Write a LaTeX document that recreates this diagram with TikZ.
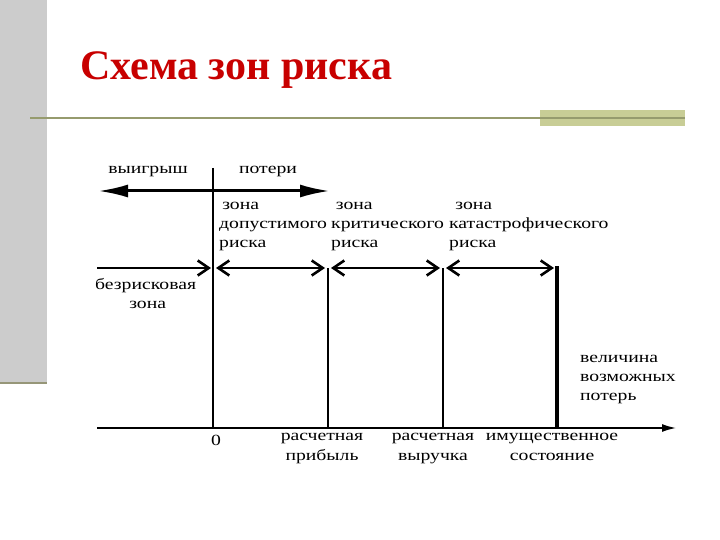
\documentclass[tikz,border=0pt]{standalone}
\usepackage{fontspec}
\setmainfont{Liberation Serif}
\newfontfamily\wide[FakeStretch=1.27]{Liberation Serif}
\usetikzlibrary{arrows.meta}
\begin{document}
\begin{tikzpicture}[x=1pt,y=-1pt,
  lbl/.style={font=\wide\fontsize{15.5}{19}\selectfont,inner sep=0pt,align=center},
  ln/.style={line width=2.6pt},
  oarr/.style={line width=2.6pt,{Straight Barb[length=11pt,width=15pt,line width=2.6pt]}-{Straight Barb[length=11pt,width=15pt,line width=2.6pt]}},
  rarr/.style={line width=2.6pt,-{Straight Barb[length=11pt,width=15pt,line width=2.6pt]}}]
\useasboundingbox (0,0) rectangle (720,540);
\fill[gray!40] (0,0) rectangle (47,383);
\draw[line width=2pt,color={rgb,255:red,150;green,150;blue,120}] (0,383) -- (47,383);
\node[anchor=west,font=\bfseries\fontsize{42}{44}\selectfont,text={rgb,255:red,200;green,0;blue,0},inner sep=0pt] (title) at (80,70) {Схема зон риска};
\fill[color={rgb,255:red,200;green,205;blue,150}] (540,110) rectangle (685,126);
\draw[line width=1.5pt,color={rgb,255:red,150;green,155;blue,110}] (30,118) -- (685,118);
% verticals
\coordinate (v0t) at (213,168); \coordinate (v0b) at (213,428);
\coordinate (v1t) at (328,268); \coordinate (v1b) at (328,428);
\coordinate (v2t) at (443,268); \coordinate (v2b) at (443,428);
\coordinate (v3t) at (557,266); \coordinate (v3b) at (557,428);
\draw[ln] (v0t) -- (v0b);
\draw[ln] (v1t) -- (v1b);
\draw[ln] (v2t) -- (v2b);
\draw[line width=3.2pt] (v3t) -- (v3b);
% top arrow
\coordinate (tl) at (98,191); \coordinate (tr) at (330,191);
\draw[line width=3pt,{Latex[length=30pt,width=13pt]}-{Latex[length=30pt,width=13pt]}] (tl) -- (tr);
% zone arrows
\coordinate (a0) at (97,268); \coordinate (a1) at (211,268);
\draw[rarr] (a0) -- (a1);
\coordinate (b0) at (216,268); \coordinate (b1) at (325,268);
\draw[oarr] (b0) -- (b1);
\coordinate (c0) at (331,268); \coordinate (c1) at (440,268);
\draw[oarr] (c0) -- (c1);
\coordinate (d0) at (446,268); \coordinate (d1) at (554,268);
\draw[oarr] (d0) -- (d1);
% axis
\coordinate (x0) at (97,428); \coordinate (x1) at (676,428);
\draw[line width=1.5pt,-{Latex[length=14pt,width=8pt]}] (x0) -- (x1);
% labels
\node[lbl] (win) at (148,171) {выигрыш};
\node[lbl] (loss) at (268,171) {потери};
\node[lbl,anchor=north west,align=left] (z1) at (219,202) {\hspace*{0.2em}зона\\допустимого\\риска};
\node[lbl,anchor=north west,align=left] (z2) at (331,202) {\hspace*{0.3em}зона\\критического\\риска};
\node[lbl,anchor=north west,align=left] (z3) at (449,202) {\hspace*{0.4em}зона\\катастрофического\\риска};
\node[lbl,anchor=north west,align=left] (z0) at (95,278) {безрисковая\\\hspace*{2.2em}зона};
\node[lbl,anchor=north west,align=left] (mag) at (580,355) {величина\\возможных\\потерь};
\node[lbl] (l0) at (216,440) {0};
\node[lbl,anchor=north,font=\wide\fontsize{15.5}{20}\selectfont] (l1) at (322,433) {расчетная\\прибыль};
\node[lbl,anchor=north,font=\wide\fontsize{15.5}{20}\selectfont] (l2) at (433,433) {расчетная\\выручка};
\node[lbl,anchor=north,font=\wide\fontsize{15.5}{20}\selectfont] (l3) at (552,433) {имущественное\\состояние};
\end{tikzpicture}
\end{document}
